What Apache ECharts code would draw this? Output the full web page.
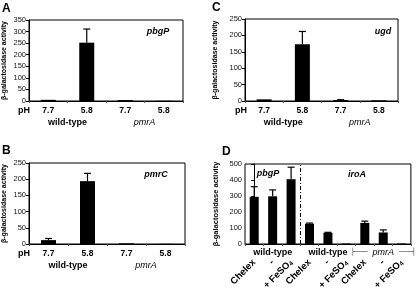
<!DOCTYPE html>
<html>
<head>
<meta charset="utf-8">
<script src="https://cdn.jsdelivr.net/npm/echarts@6/dist/echarts.min.js"></script>
<style>
  html, body { margin: 0; padding: 0; background: #fff; }
  #main { width: 418px; height: 294px; }
</style>
</head>
<body>
<div id="main"></div>
<script>
// shared x labels for panels A-C
const phLabels = ['7.7', '5.8', '7.7', '5.8'];
const strainGroups = ['wild-type', 'pmrA'];

// A - pbgP
const pbgpValues = [5, 252, 4, 1];
const pbgpErrTop = [null, 311, null, null];
// B - pmrC
const pmrcValues = [12, 194, 2, 0.5];
const pmrcErrTop = [17, 218, null, null];
// C - ugd
const ugdValues = [5, 173, 3, 2];
const ugdErrTop = [null, 212, 4, null];
// D - pbgP / iroA with iron
const ironLabels = ['Chelex', '-', '+ FeSO4', 'Chelex', '-', '+ FeSO4', 'Chelex', '-', '+ FeSO4'];
const ironGroups = ['wild-type', 'wild-type', 'pmrA'];
const ironValues = [295, 298, 405, 127, 70, 3, 132, 72, 3];
const ironErrTop = [358, 338, 480, 131, 73, null, 143, 88, null];

const yTitle = 'β-galactosidase activity';
const font = 'Liberation Sans, Arial, sans-serif';

var myChart = echarts.init(document.getElementById('main'));

const grids = [];
const xAxes = [];
const yAxes = [];
const series = [];

// 误差线 (only the upper half is drawn in the figure)
const errorBar = function (params, api) {
    const p0 = api.coord([api.value(0), api.value(1)]);
    const p1 = api.coord([api.value(0), api.value(2)]);
    const half = 3.5;
    return {
        type: 'group',
        children: [
            { type: 'line', shape: { x1: p0[0], y1: p0[1], x2: p1[0], y2: p1[1] }, style: { stroke: '#000', lineWidth: 1.2 } },
            { type: 'line', shape: { x1: p1[0] - half, y1: p1[1], x2: p1[0] + half, y2: p1[1] }, style: { stroke: '#000', lineWidth: 1.2 } }
        ]
    };
};

const addPanel = (i, box, cats, groups, values, errTop, yMax, yStep, nameGap, opts) => {
    opts = opts || {};
    grids.push(Object.assign({ show: true, borderColor: '#000', borderWidth: 1 }, box));
    xAxes.push({
        gridIndex: i,
        type: 'category',
        data: cats,
        axisLine: { lineStyle: { color: '#000', width: 1 } },
        axisTick: { show: true, length: 2, lineStyle: { color: '#555' } },
        axisLabel: Object.assign({
            interval: 0, margin: 5, fontSize: 8.5, fontWeight: 'bold', color: '#000', fontFamily: font
        }, opts.label || {})
    });
    xAxes.push({
        gridIndex: i,
        type: 'category',
        data: groups,
        position: 'bottom',
        offset: opts.groupOffset === undefined ? 12 : opts.groupOffset,
        axisLine: { show: false },
        axisTick: { show: false },
        axisLabel: {
            interval: 0, margin: opts.groupMargin || 5, fontSize: 9, fontWeight: 'bold', color: '#000', fontFamily: font,
            formatter: v => v === 'pmrA' ? (opts.bracket ? '{br|├───}  {it|pmrA}  {br|───┤}' : '{it|pmrA}') : v,
            rich: {
                it: { fontStyle: 'italic', fontWeight: 'normal', fontSize: 9, color: '#000', fontFamily: font },
                br: { fontSize: 7, color: '#444', fontFamily: 'DejaVu Sans Mono' }
            }
        }
    });
    yAxes.push({
        gridIndex: i,
        type: 'value',
        min: 0,
        max: yMax,
        interval: yStep,
        name: yTitle,
        nameLocation: 'middle',
        nameGap: nameGap,
        nameTextStyle: { fontSize: opts.titleSize || 7, fontWeight: 'bold', color: '#000', fontFamily: font },
        axisLine: { show: true, lineStyle: { color: '#000', width: 1 } },
        axisTick: { show: true, length: 3, lineStyle: { color: '#000' } },
        splitLine: { show: false },
        axisLabel: { fontSize: 7.5, margin: 3, color: '#111', fontFamily: font }
    });
    series.push({
        type: 'bar',
        xAxisIndex: 2 * i,
        yAxisIndex: i,
        barWidth: opts.barWidth || 15,
        itemStyle: { color: '#000' },
        data: values
    });
    const err = [];
    errTop.forEach((e, k) => { if (e != null) err.push([k, values[k], e]); });
    series.push({
        type: 'custom',
        xAxisIndex: 2 * i,
        yAxisIndex: i,
        renderItem: errorBar,
        encode: { x: 0, y: [1, 2] },
        z: 5,
        data: err
    });
};

addPanel(0, { left: 29, top: 20, width: 154, height: 81 }, phLabels, strainGroups, pbgpValues, pbgpErrTop, 350, 50, 21);
addPanel(1, { left: 29, top: 163, width: 156, height: 81 }, phLabels, strainGroups, pmrcValues, pmrcErrTop, 250, 50, 21);
addPanel(2, { left: 245, top: 19, width: 153, height: 82 }, phLabels, strainGroups, ugdValues, ugdErrTop, 250, 50, 26);
addPanel(3, { left: 245, top: 164, width: 171, height: 80 }, ironLabels, ironGroups, ironValues, ironErrTop, 500, 100, 25, {
    barWidth: 9,
    groupOffset: 0,
    groupMargin: 4,
    bracket: true,
    titleSize: 7.5,
    label: {
        rotate: 45,
        margin: 17,
        fontSize: 9.5,
        formatter: v => v.replace('FeSO4', 'FeSO{sub|4}'),
        rich: { sub: { fontSize: 6.5, fontWeight: 'bold', color: '#000', verticalAlign: 'bottom', padding: [4, 0, 0, 0] } }
    }
});

// hidden value axis to place the pbgP | iroA divider between bars 3 and 4
xAxes.push({ gridIndex: 3, type: 'value', min: -0.5, max: 8.5, show: false });
series.push({
    type: 'line',
    xAxisIndex: 8,
    yAxisIndex: 3,
    showSymbol: false,
    data: [[2.5, 0]],
    markLine: {
        silent: true,
        symbol: ['none', 'none'],
        label: { show: false },
        lineStyle: { color: '#000', width: 1, type: [4, 2, 1, 2] },
        data: [{ xAxis: 2.5 }]
    }
});

const txt = (x, y, text, size, style, align) => ({
    type: 'text',
    x: x,
    y: y,
    style: {
        text: text,
        fontSize: size,
        fontWeight: 'bold',
        fontStyle: style || 'normal',
        fontFamily: font,
        fill: '#000',
        align: align || 'center',
        verticalAlign: 'middle'
    }
});

myChart.setOption({
    animation: false,
    grid: grids,
    xAxis: xAxes,
    yAxis: yAxes,
    series: series,
    graphic: [
        txt(2, 9, 'A', 12, null, 'left'),
        txt(2, 151, 'B', 12, null, 'left'),
        txt(212, 8, 'C', 12, null, 'left'),
        txt(222, 152, 'D', 12, null, 'left'),
        txt(24, 111, 'pH', 9),
        txt(24, 254, 'pH', 9),
        txt(241, 111, 'pH', 9),
        txt(158, 32, 'pbgP', 9, 'italic'),
        txt(156, 175, 'pmrC', 9, 'italic'),
        txt(383, 32, 'ugd', 9, 'italic'),
        txt(268, 174, 'pbgP', 9, 'italic'),
        txt(357, 175, 'iroA', 9, 'italic')
    ]
});
</script>
</body>
</html>
